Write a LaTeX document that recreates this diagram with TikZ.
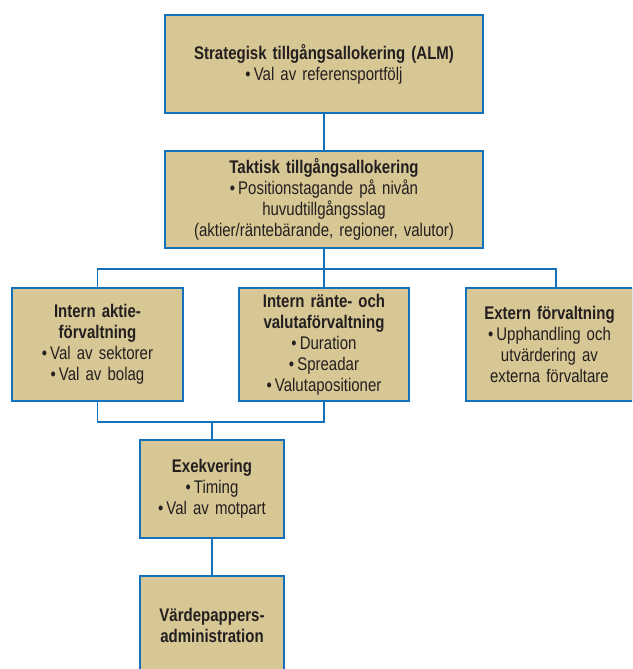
\documentclass[tikz,border=0pt]{standalone}
\usepackage{fontspec}
\setmainfont[FakeStretch=0.82]{Liberation Sans}
\definecolor{boxfill}{RGB}{215,199,148}
\definecolor{boxline}{RGB}{20,114,188}
\definecolor{txt}{RGB}{35,31,32}
\tikzset{
  box/.style={draw=boxline, fill=boxfill, line width=1.6pt, inner sep=0pt,
    align=center, text=txt, font=\fontsize{18.3}{21}\selectfont},
  conn/.style={draw=boxline, line width=1.5pt},
}
\begin{document}
\begin{tikzpicture}[x=1pt,y=-1pt]
\useasboundingbox (0,0) rectangle (632,669);
\clip (0,0) rectangle (632,669);
\node[box, minimum width=318, minimum height=98, text width=310] (top) at (324,64)
  {\textbf{Strategisk tillgångsallokering (ALM)}\\•\,Val av referensportfölj};
\node[box, minimum width=318, minimum height=97, text width=310] (takt) at (324,199.5)
  {\textbf{Taktisk tillgångsallokering}\\•\,Positionstagande på nivån\\huvudtillgångsslag\\(aktier/räntebärande, regioner, valutor)};
\node[box, minimum width=171, minimum height=113, text width=165] (left) at (97.5,344.5)
  {\textbf{Intern aktie-}\\\textbf{förvaltning}\\•\,Val av sektorer\\•\,Val av bolag};
\node[box, minimum width=170, minimum height=113, text width=165] (mid) at (324,344.5)
  {\textbf{Intern ränte- och}\\\textbf{valutaförvaltning}\\•\,Duration\\•\,Spreadar\\•\,Valutapositioner};
\node[box, minimum width=167, minimum height=113, text width=162] (right) at (549.5,344.5)
  {\textbf{Extern förvaltning}\\•\,Upphandling och\\utvärdering av\\externa förvaltare};
\node[box, minimum width=144, minimum height=98, text width=140] (exek) at (212,489)
  {\textbf{Exekvering}\\•\,Timing\\•\,Val av motpart};
\node[box, minimum width=144, minimum height=98, text width=140] (varde) at (212,625)
  {\textbf{Värdepappers-}\\\textbf{administration}};
\coordinate (bus) at (324,269);
\coordinate (lowbus) at (212,422);
\draw[conn] (top.south) -- (takt.north);
\draw[conn] (takt.south) -- (bus);
\draw[conn] (bus) -| (left.north);
\draw[conn] (bus) -| ([xshift=6.5pt]right.north);
\draw[conn] (bus) -- (mid.north);
\draw[conn] (left.south) |- (lowbus) -| (mid.south);
\draw[conn] (lowbus) -- (exek.north);
\draw[conn] (exek.south) -- (varde.north);
\end{tikzpicture}
\end{document}
